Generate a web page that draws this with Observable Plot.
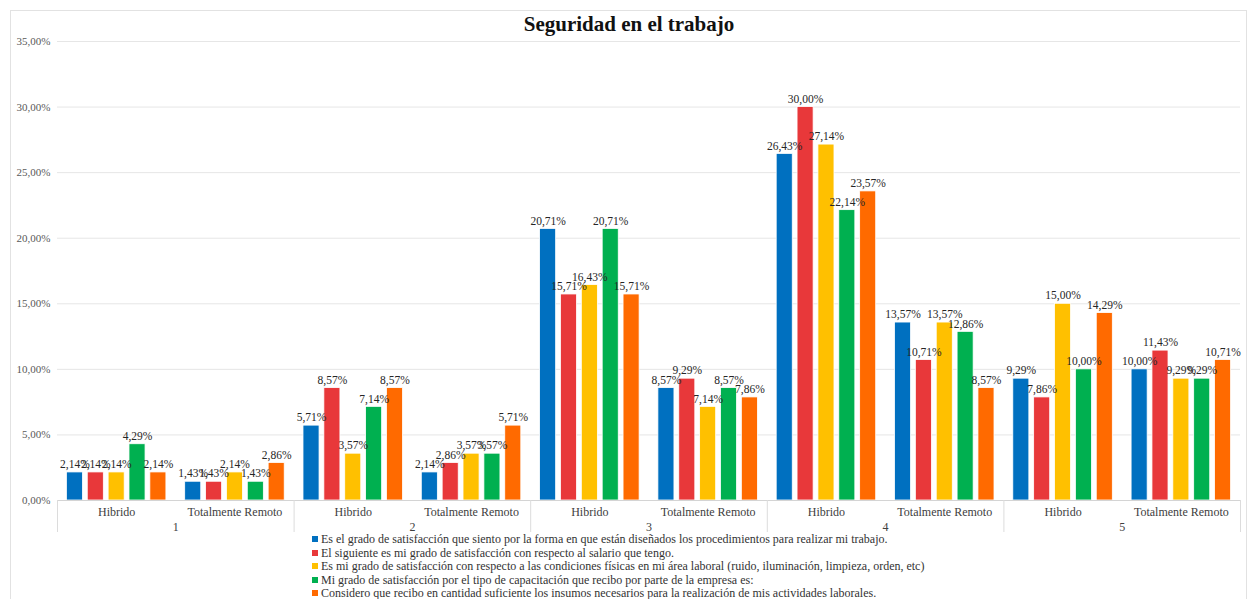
<!DOCTYPE html>
<html>
<head>
<meta charset="utf-8">
<script src="https://cdn.jsdelivr.net/npm/d3@7"></script>
<script src="https://cdn.jsdelivr.net/npm/@observablehq/plot@0.6"></script>
<style>
  html, body { margin: 0; padding: 0; background: #fff; }
  body { width: 1251px; height: 599px; position: relative; overflow: hidden; font-family: "Liberation Serif", "Times New Roman", serif; }
  #box { position: absolute; left: 10px; top: 10px; width: 1237px; height: 600px; border: 1px solid #e2e2e2; box-sizing: border-box; }
  #title { position: absolute; left: 10px; top: 12px; width: 1238px; text-align: center; font-weight: bold; font-size: 21px; line-height: 24px; color: #111; }
  #chart { position: absolute; left: 0; top: 30px; }
  #legend { position: absolute; left: 312px; top: 533px; font-size: 12px; color: #333; line-height: 13.6px; }
  #legend .row { white-space: nowrap; }
  #legend .sw { display: inline-block; width: 6px; height: 6px; margin-right: 3px; vertical-align: 1px; }
</style>
</head>
<body>
<div id="box"></div>
<div id="title">Seguridad en el trabajo</div>
<div id="chart"></div>
<div id="legend"></div>
<script>
// Groups on the x axis, each split into two work modes
const groups = ["1", "2", "3", "4", "5"];
const modes = ["Hibrido", "Totalmente Remoto"];

// Survey statements (one bar series each)
const series = [
  "Es el grado de satisfacción que siento por la forma en que están diseñados los procedimientos para realizar mi trabajo.",
  "El siguiente es mi grado de satisfacción con respecto al salario que tengo.",
  "Es mi grado de satisfacción con respecto a las condiciones físicas en mi área laboral (ruido, iluminación, limpieza, orden, etc)",
  "Mi grado de satisfacción por el tipo de capacitación que recibo por parte de la empresa es:",
  "Considero que recibo en cantidad suficiente los insumos necesarios para la realización de mis actividades laborales."
];
const colors = ["#0070C0", "#E8383A", "#FFC000", "#00B050", "#FF6A00"];

// Percentages per group/mode: 1-Hibrido, 1-Remoto, 2-Hibrido, ...
const procedimientos = [2.14, 1.43, 5.71, 2.14, 20.71, 8.57, 26.43, 13.57, 9.29, 10.00];
const salario        = [2.14, 1.43, 8.57, 2.86, 15.71, 9.29, 30.00, 10.71, 7.86, 11.43];
const condiciones    = [2.14, 2.14, 3.57, 3.57, 16.43, 7.14, 27.14, 13.57, 15.00, 9.29];
const capacitacion   = [4.29, 1.43, 7.14, 3.57, 20.71, 8.57, 22.14, 12.86, 10.00, 9.29];
const insumos        = [2.14, 2.86, 8.57, 5.71, 15.71, 7.86, 23.57, 8.57, 14.29, 10.71];

const yTicks = [0, 5, 10, 15, 20, 25, 30, 35];

const valuesBySeries = [procedimientos, salario, condiciones, capacitacion, insumos];
const fmt = v => v.toFixed(2).replace(".", ",") + "%";
const serif = "'Liberation Serif', 'Times New Roman', serif";

// One slot per group/mode pair
const slots = [];
groups.forEach((g, gi) => modes.forEach((m, mi) => slots.push({group: g, mode: m, gi, index: gi * modes.length + mi})));

// Position of each series bar inside its slot
const inner = d3.scaleBand().domain(series).range([0, 1]).paddingInner(0.23).paddingOuter(0.45);

const rows = [];
series.forEach((s, si) => {
  slots.forEach(slot => {
    const x1 = slot.index + inner(s);
    rows.push({series: s, value: valuesBySeries[si][slot.index], x1, x2: x1 + inner.bandwidth()});
  });
});

const groupRows = groups.map((g, gi) => ({group: g, center: gi * modes.length + modes.length / 2}));
const bounds = d3.range(0, slots.length + 1, modes.length);

const chart = Plot.plot({
  width: 1251,
  height: 505,
  marginTop: 11,
  marginBottom: 35,
  marginLeft: 57,
  marginRight: 11,
  style: `font-family: ${serif}; font-size: 11px; color: #595959; background: transparent;`,
  x: {domain: [0, slots.length], axis: null},
  y: {domain: [0, 35], ticks: yTicks, tickFormat: fmt, tickSize: 0, tickPadding: 7, label: null},
  color: {domain: series, range: colors},
  marks: [
    Plot.ruleY(yTicks.filter(t => t > 0), {stroke: "#e6e6e6"}),
    Plot.rect(rows, {x1: "x1", x2: "x2", y1: 0, y2: "value", fill: "series", stroke: "#ffffff", strokeWidth: 0.8}),
    Plot.ruleY([0], {stroke: "#d4d4d4"}),
    Plot.ruleX(bounds, {x: d => d, y1: 0, y2: 0, insetBottom: -32, stroke: "#dcdcdc"}),
    Plot.text(slots, {x: d => d.index + 0.5, y: 0, dy: 12, text: "mode", fontFamily: serif, fontSize: 12, fill: "#404040"}),
    Plot.text(groupRows, {x: "center", y: 0, dy: 27, text: "group", fontFamily: serif, fontSize: 12, fill: "#404040"}),
    Plot.text(rows, {x: d => (d.x1 + d.x2) / 2, y: "value", dy: -8, text: d => fmt(d.value), fontFamily: serif, fontSize: 11.5, fill: "#262626"})
  ]
});
document.getElementById("chart").appendChild(chart);

// Legend below the chart
const legend = d3.select("#legend");
series.forEach((s, i) => {
  const row = legend.append("div").attr("class", "row");
  row.append("span").attr("class", "sw").style("background", colors[i]);
  row.append("span").text(s);
});
</script>
</body>
</html>
